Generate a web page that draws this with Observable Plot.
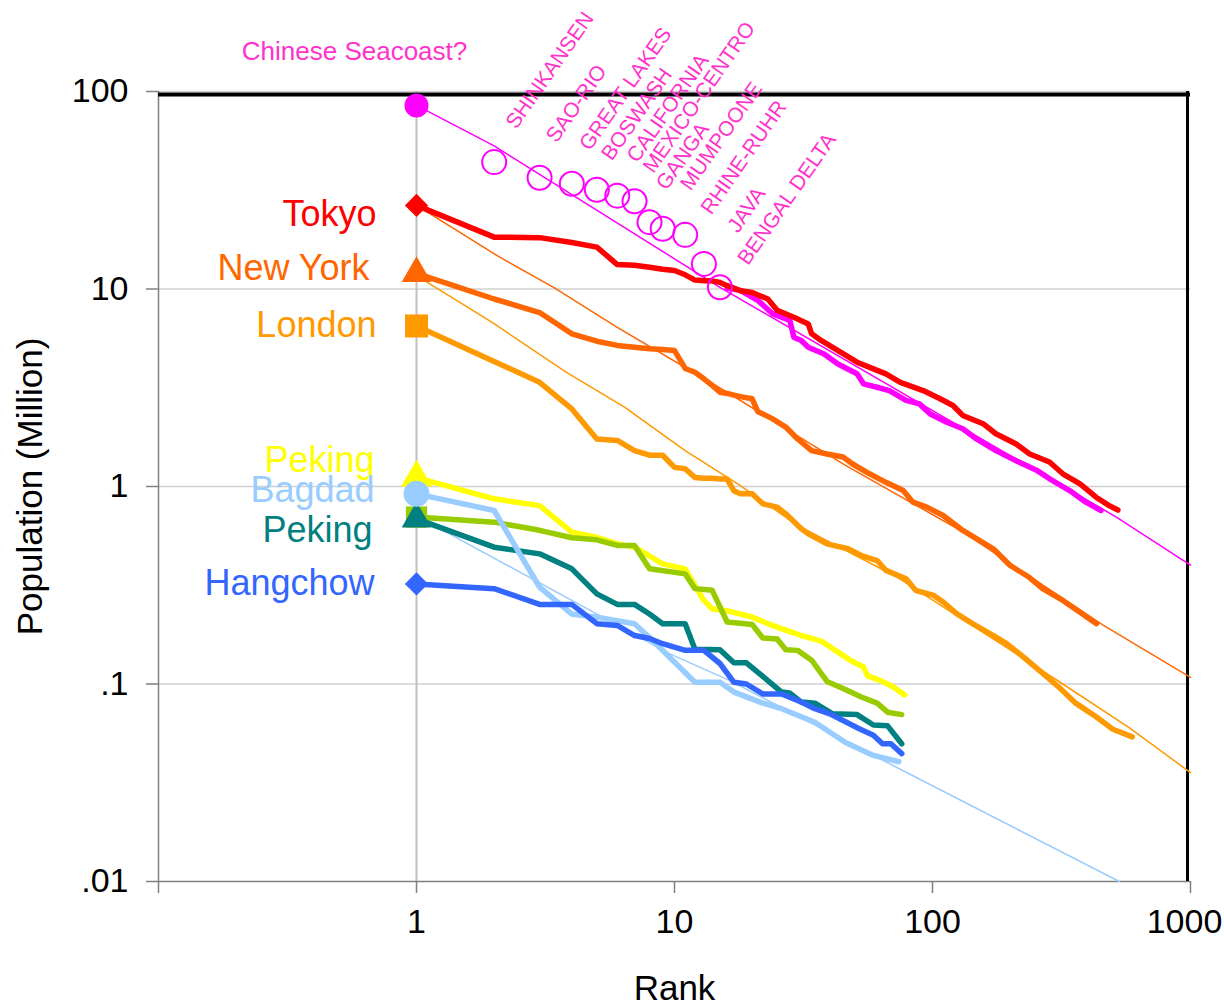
<!DOCTYPE html>
<html>
<head>
<meta charset="utf-8">
<script src="https://cdn.jsdelivr.net/npm/d3@7"></script>
<script src="https://cdn.jsdelivr.net/npm/@observablehq/plot@0.6"></script>
<style>
  html, body { margin: 0; padding: 0; background: #fff; }
  #chart svg { display: block; }
</style>
</head>
<body>
<div id="chart"></div>
<script>
// Rank–size curves of city populations (millions), log–log.

// Modern metropolitan ranking
const tokyo = [[1,26.5],[2,18.3],[3,18.2],[4,17.2],[5,16.3],[6,13.3],[7,13.2],[8,12.9],[9,12.6],[10,12.4],[11,11.8],[12,11.1],[13,11.0],[14,11.0],[15,10.8],[16,10.4],[17,10.1],[18,9.8],[20,9.6],[23,8.9],[25,7.8],[29,7.2],[33,6.65],[34,5.93],[37,5.49],[44,4.79],[51,4.26],[59,3.94],[66,3.72],[75,3.37],[92,3.06],[107,2.78],[120,2.57],[131,2.29],[157,2.08],[176,1.85],[211,1.64],[238,1.46],[284,1.33],[320,1.16],[373,1.03],[432,0.88],[484,0.80],[523,0.76]];
const newYork = [[1,12],[2,8.9],[3,7.6],[4,5.93],[5,5.44],[6,5.18],[7,5.07],[8,4.98],[9,4.94],[10,4.88],[11,3.96],[12,3.79],[13,3.51],[14,3.25],[15,3.0],[16,2.96],[17,2.9],[18,2.85],[20,2.78],[21,2.4],[22,2.33],[24,2.2],[27,2.0],[30,1.74],[34,1.52],[39,1.46],[45,1.41],[49,1.30],[57,1.16],[66,1.05],[77,0.954],[84,0.833],[95,0.786],[110,0.713],[131,0.599],[148,0.544],[172,0.484],[200,0.398],[237,0.347],[268,0.303],[320,0.265],[373,0.231],[432,0.202]];
const london = [[1,6.5],[2,4.3],[3,3.37],[4,2.47],[5,1.74],[6,1.71],[7,1.52],[8,1.44],[9,1.44],[10,1.25],[11,1.23],[12,1.11],[13,1.10],[14,1.10],[15,1.09],[16,1.09],[17,0.95],[18,0.92],[20,0.918],[22,0.817],[25,0.786],[27,0.727],[31,0.611],[33,0.576],[39,0.512],[47,0.484],[53,0.447],[61,0.422],[66,0.376],[79,0.341],[86,0.298],[101,0.281],[110,0.26],[124,0.227],[143,0.202],[167,0.18],[194,0.16],[225,0.137],[260,0.117],[310,0.096],[359,0.08],[432,0.068],[500,0.059],[595,0.054]];
const megaTail = [[16,10.1],[18,9.84],[21,8.77],[24,7.5],[28,6.93],[29,5.7],[31,5.49],[33,5.07],[38,4.69],[43,4.17],[51,3.72],[54,3.31],[61,3.18],[68,3.06],[79,2.73],[89,2.62],[98,2.33],[113,2.12],[131,1.96],[148,1.74],[176,1.52],[211,1.35],[253,1.21],[292,1.07],[340,0.954],[393,0.833],[450,0.756]];

// Megaregions
const megaNames = ["SHINKANSEN","SAO-RIO","GREAT LAKES","BOSWASH","CALIFORNIA","MEXICO-CENTRO","GANGA","MUMPOONE","RHINE-RUHR","JAVA","BENGAL DELTA"];
const megaRanks = [2,3,4,5,6,7,8,9,11,13,15];
const megaPops  = [43.9,36.6,34.1,31.8,29.7,27.8,21.8,20.2,18.8,13.4,10.2];
const seacoast = {name: "Chinese Seacoast?", rank: 1, pop: 85};

// Pre-industrial rankings
const pekingA  = [[1,1.11],[2,0.866],[3,0.80],[4,0.587],[5,0.553],[6,0.512],[7,0.493],[9,0.406],[11,0.383],[13,0.265],[14,0.24],[16,0.235],[20,0.218],[23,0.202],[25,0.194],[31,0.176],[37,0.165],[43,0.145],[48,0.132],[54,0.122],[56,0.110],[63,0.104],[71,0.096],[78,0.088]];
const pekingB  = [[1,0.70],[2,0.66],[3,0.60],[4,0.55],[5,0.537],[6,0.503],[7,0.503],[8,0.383],[11,0.361],[12,0.304],[14,0.298],[16,0.206],[20,0.200],[22,0.171],[25,0.169],[27,0.149],[30,0.148],[34,0.132],[39,0.103],[45,0.095],[53,0.086],[61,0.080],[67,0.072],[76,0.070]];
const bagdad   = [[1,0.918],[2,0.756],[3,0.309],[4,0.226],[5,0.218],[7,0.202],[8,0.172],[12,0.102],[15,0.102],[17,0.091],[22,0.080],[26,0.075],[35,0.064],[46,0.0506],[59,0.0435],[74,0.0404]];
const pekingC  = [[1,0.686],[2,0.493],[3,0.456],[4,0.383],[5,0.286],[6,0.253],[7,0.253],[8,0.226],[9,0.202],[11,0.202],[12,0.150],[15,0.149],[17,0.128],[19,0.128],[21,0.115],[23,0.104],[26,0.091],[28,0.090],[31,0.081],[35,0.080],[41,0.0706],[51,0.070],[59,0.062],[67,0.0614],[76,0.0498]];
const hangchow = [[1,0.321],[2,0.304],[3,0.253],[4,0.253],[5,0.202],[6,0.198],[7,0.176],[8,0.17],[9,0.16],[11,0.148],[13,0.148],[15,0.127],[17,0.102],[19,0.100],[22,0.089],[26,0.089],[31,0.081],[35,0.075],[40,0.0706],[45,0.0654],[52,0.0594],[59,0.055],[64,0.0498],[69,0.0498],[76,0.0444]];

// Thin reference (fitted) curves
const megaFit   = [[1,85],[2,53],[15,10.2],[516,0.7],[1000,0.4]];
const nyFit     = [[1,26.5],[2.1,14.5],[3.4,10.2],[6,6.4],[16,3.0],[46,1.28],[131,0.59],[455,0.2],[1000,0.108]];
const londonFit = [[1,11.7],[2,6.67],[3.8,3.79],[6.4,2.52],[11,1.52],[18,1.01],[30,0.635],[73,0.347],[176,0.166],[320,0.1],[580,0.06],[1000,0.0356]];
const bagdadFit = [[1,0.71],[9.6,0.142],[16.4,0.104],[75,0.037],[530,0.01]];

// Axis ticks
const xTicks = [0.1, 1, 10, 100, 1000];
const xTickLabels = ["", "1", "10", "100", "1000"];
const yTicks = [0.01, 0.1, 1, 10, 100];
const yTickLabels = [".01", ".1", "1", "10", "100"];

// Series styling (name, data, colour, start-marker symbol) and label nudges
const series = [
  {label: "Tokyo",    data: tokyo,    color: "#ff0000", symbol: "diamond2", r: 10.5, ldx: -40, ldy: 9},
  {label: "New York", data: newYork,  color: "#ff6600", symbol: "triangle", r: 11,   ldx: -47, ldy: -5},
  {label: "London",   data: london,   color: "#ff9900", symbol: "square",   r: 13,   ldx: -40, ldy: 0},
  {label: "Peking",   data: pekingA,  color: "#ffff00", symbol: "triangle", r: 11.5, ldx: -42, ldy: -17},
  {label: null,       data: pekingB,  color: "#99cc00", symbol: "square",   r: 12,   ldx: 0,   ldy: 0},
  {label: "Peking",   data: pekingC,  color: "#008080", symbol: "triangle", r: 11,   ldx: -44, ldy: 12},
  {label: "Bagdad",   data: bagdad,   color: "#99ccff", symbol: "circle",   r: 13,   ldx: -42, ldy: -3},
  {label: "Hangchow", data: hangchow, color: "#3366ff", symbol: "diamond2", r: 10.5, ldx: -42, ldy: 0}
];
const fits = [
  {data: megaFit,   color: "#ff00ff"},
  {data: nyFit,     color: "#ff6600"},
  {data: londonFit, color: "#ff9900"},
  {data: bagdadFit, color: "#99ccff"}
];
// Offsets of each megaregion label from its circle
const megaLabelNudge = [[22,-32],[17,-34],[18,-32],[15,-28],[20,-32],[19,-27],[17,-31],[28,-37],[26,-19],[34,-30],[28,-21]];

const megaregions = megaNames.map((name, i) => ({name, rank: megaRanks[i], pop: megaPops[i]}));

const X = d => d[0], Y = d => d[1];
const font = "Liberation Sans, Arial, Helvetica, sans-serif";

const marks = [
  // grid
  Plot.ruleY([100, 10, 1, 0.1], {stroke: "#d0d0d0", strokeWidth: 1.5}),
  Plot.ruleX([1], {stroke: "#c0c0c0", strokeWidth: 2}),
  // axis lines and frame
  Plot.ruleX([0.1], {stroke: "#808080", strokeWidth: 1.5}),
  Plot.ruleY([0.01], {stroke: "#808080", strokeWidth: 1.5}),
  Plot.ruleY([100], {stroke: "#000", strokeWidth: 4, dy: 3}),
  Plot.ruleX([1000], {stroke: "#000", strokeWidth: 3, dx: -3}),
  Plot.axisX({ticks: xTicks, tickFormat: () => "", tickSize: 12, stroke: "#808080", strokeWidth: 1.5, label: null}),
  Plot.text(xTicks.slice(1, 4), {x: d => d, text: d => xTickLabels[xTicks.indexOf(d)], frameAnchor: "bottom",
      lineAnchor: "top", dy: 27, fontSize: 34, fill: "#000"}),
  Plot.text(xTicks.slice(4), {x: d => d, text: d => xTickLabels[xTicks.indexOf(d)], frameAnchor: "bottom",
      lineAnchor: "top", dy: 27, dx: -6, fontSize: 34, fill: "#000"}),
  Plot.axisY({ticks: yTicks, tickFormat: d => yTickLabels[yTicks.indexOf(d)], tickSize: 12, tickPadding: 18,
              stroke: "#808080", strokeWidth: 1.5, fill: "#000", fontSize: 34, label: null}),
  Plot.text(["Rank"], {text: d => d, frameAnchor: "bottom", textAnchor: "middle", lineAnchor: "middle", dy: 107, fontSize: 35, fill: "#000"}),
  Plot.text(["Population (Million)"], {text: d => d, frameAnchor: "left", textAnchor: "middle", lineAnchor: "middle",
      dx: -128, rotate: -90, fontSize: 35, fill: "#000"}),
  // thin fitted curves
  ...fits.map(f => Plot.line(f.data, {x: X, y: Y, stroke: f.color, strokeWidth: 1.5})),
  // megaregion tail and the modern curves
  Plot.line(megaTail, {x: X, y: Y, stroke: "#ff00ff", strokeWidth: 5.5, strokeLinejoin: "round", strokeLinecap: "round"}),
  ...series.map(s => Plot.line(s.data, {x: X, y: Y, stroke: s.color, strokeWidth: 5.5, strokeLinejoin: "round", strokeLinecap: "round"})),
  // start markers
  ...series.map(s => Plot.dot([s.data[0]], {x: X, y: Y, symbol: s.symbol, r: s.r, fill: s.color, stroke: "none"})),
  Plot.dot([seacoast], {x: "rank", y: "pop", r: 12, fill: "#ff00ff"}),
  Plot.dot(megaregions, {x: "rank", y: "pop", r: 12, fill: "none", stroke: "#ff00ff", strokeWidth: 2}),
  // labels
  ...series.filter(s => s.label).map(s => Plot.text([s.data[0]], {x: X, y: Y, text: () => s.label, textAnchor: "end",
      dx: s.ldx, dy: s.ldy, fill: s.color, fontSize: 36})),
  Plot.text([seacoast], {x: "rank", y: "pop", text: "name", dx: -62, dy: -54, fill: "#ff33cc", fontSize: 26}),
  ...megaregions.map((m, i) => Plot.text([m], {x: "rank", y: "pop", text: "name", rotate: -55, textAnchor: "start",
      lineAnchor: "bottom", dx: megaLabelNudge[i][0], dy: megaLabelNudge[i][1], fill: "#ff33cc", fontSize: 21}))
];

const chart = Plot.plot({
  width: 1224,
  height: 1008,
  marginLeft: 158,
  marginRight: 34,
  marginTop: 91,
  marginBottom: 127,
  x: {type: "log", domain: [0.1, 1000]},
  y: {type: "log", domain: [0.01, 100]},
  style: {fontFamily: font, background: "#fff", color: "#000", overflow: "visible"},
  marks
});

document.getElementById("chart").appendChild(chart);
</script>
</body>
</html>
